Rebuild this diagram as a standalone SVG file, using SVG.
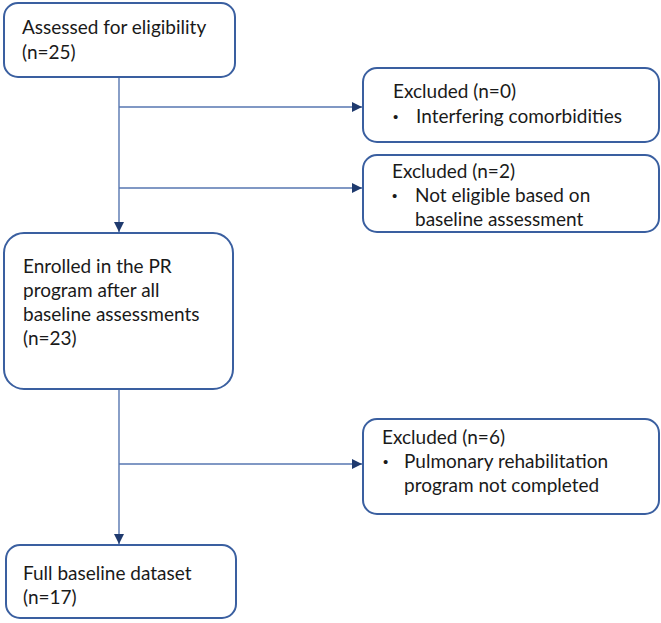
<svg xmlns="http://www.w3.org/2000/svg" width="661" height="623" viewBox="0 0 661 623">
<defs>
<style>
.box{fill:#fff;stroke:#3A5FA0;stroke-width:2}
.t{font-family:Lato,"Open Sans","Liberation Sans",sans-serif;font-size:19px;fill:#1a1a1a}
.b{font-family:"Liberation Sans",sans-serif;font-size:15px;fill:#1a1a1a}
.ln{fill:none;stroke:#5676B0;stroke-width:1.4}
</style>
<marker id="ah" viewBox="0 0 10 10" refX="10" refY="5" markerWidth="10" markerHeight="10" markerUnits="userSpaceOnUse" orient="auto">
<path d="M0,0 L10,5 L0,10 Z" fill="#1F3A6E"/>
</marker>
</defs>
<rect width="661" height="623" fill="#fff"/>
<g id="connectors">
<path class="ln" d="M119,77 V232" marker-end="url(#ah)"/>
<path class="ln" d="M119,107 H362" marker-end="url(#ah)"/>
<path class="ln" d="M119,188 H362" marker-end="url(#ah)"/>
<path class="ln" d="M119,389 V544" marker-end="url(#ah)"/>
<path class="ln" d="M119,464 H362" marker-end="url(#ah)"/>
</g>
<g id="n1">
<rect class="box" x="4" y="3" width="231" height="74" rx="14"/>
<text class="t" x="22" y="34">Assessed for eligibility</text>
<text class="t" x="22" y="59">(n=25)</text>
</g>
<g id="n2">
<rect class="box" x="363" y="68" width="296" height="74" rx="14"/>
<text class="t" x="393" y="98">Excluded (n=0)</text>
<text class="b" x="393" y="122">•</text>
<text class="t" x="416" y="123">Interfering comorbidities</text>
</g>
<g id="n3">
<rect class="box" x="363" y="155" width="296" height="77" rx="14"/>
<text class="t" x="392" y="178">Excluded (n=2)</text>
<text class="b" x="392" y="201">•</text>
<text class="t" x="415" y="202">Not eligible based on</text>
<text class="t" x="415" y="226">baseline assessment</text>
</g>
<g id="n4">
<rect class="box" x="4" y="233" width="229" height="156" rx="20"/>
<text class="t" x="23" y="273">Enrolled in the PR</text>
<text class="t" x="23" y="297">program after all</text>
<text class="t" x="23" y="321">baseline assessments</text>
<text class="t" x="23" y="345">(n=23)</text>
</g>
<g id="n5">
<rect class="box" x="363" y="419" width="296" height="95" rx="14"/>
<text class="t" x="382" y="444">Excluded (n=6)</text>
<text class="b" x="383" y="467">•</text>
<text class="t" x="404" y="468">Pulmonary rehabilitation</text>
<text class="t" x="404" y="492">program not completed</text>
</g>
<g id="n6">
<rect class="box" x="6" y="545" width="230" height="73" rx="14"/>
<text class="t" x="23" y="580">Full baseline dataset</text>
<text class="t" x="23" y="604">(n=17)</text>
</g>
</svg>
